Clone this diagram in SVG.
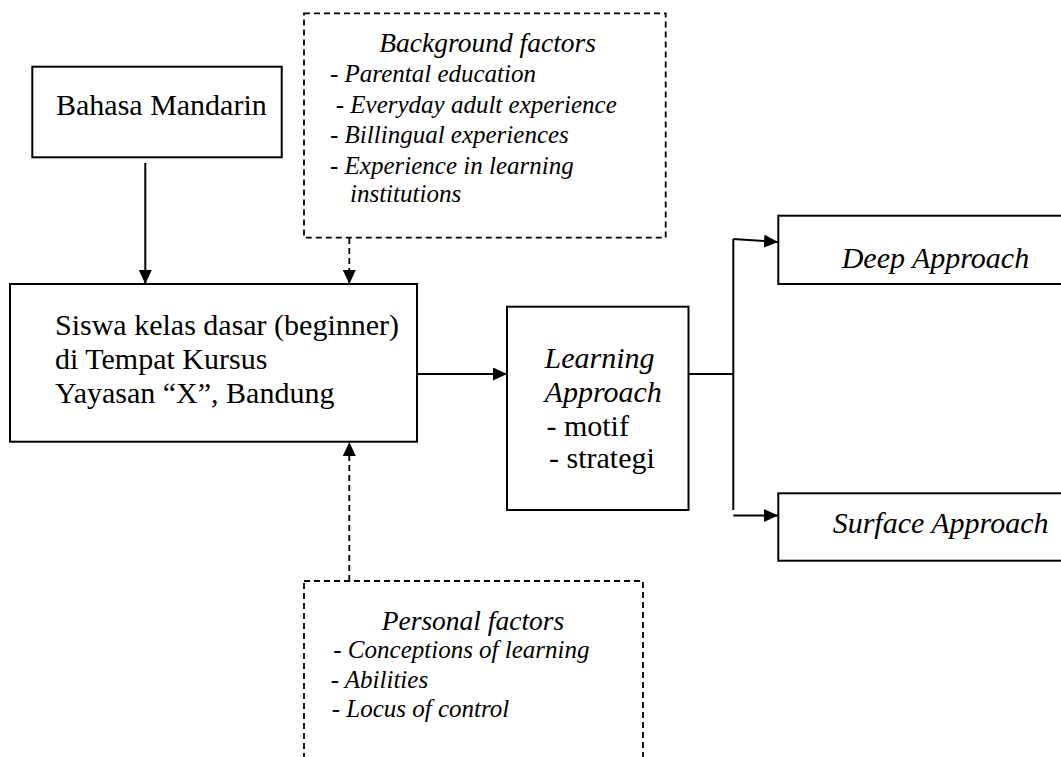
<svg xmlns="http://www.w3.org/2000/svg" width="1061" height="757" viewBox="0 0 1061 757">
<style>
  .box { fill: #fff; stroke: #000; stroke-width: 2; }
  .dbox { fill: none; stroke: #000; stroke-width: 1.8; stroke-dasharray: 6 4; }
  .line { fill: none; stroke: #000; stroke-width: 2; }
  .dline { fill: none; stroke: #000; stroke-width: 1.8; stroke-dasharray: 6 4; }
  text { font-family: "Liberation Serif", "Times New Roman", serif; fill: #000; }
  .main { font-size: 30px; }
  .ital { font-size: 30px; font-style: italic; }
  .title { font-size: 27.5px; font-style: italic; }
  .item { font-size: 25px; font-style: italic; }
</style>
<defs>
  <marker id="arrow" viewBox="0 0 14 13" refX="14" refY="6.5" markerWidth="14" markerHeight="13" markerUnits="userSpaceOnUse" orient="auto">
    <path d="M0,0 L14,6.5 L0,13 z" fill="#000"/>
  </marker>
</defs>
<rect width="1061" height="757" fill="#fff"/>

<g id="connectors">
  <line class="line" x1="145.3" y1="163" x2="145.3" y2="284" marker-end="url(#arrow)"/>
  <line class="dline" x1="349.3" y1="238" x2="349.3" y2="284" marker-end="url(#arrow)"/>
  <line class="dline" x1="349.3" y1="581" x2="349.3" y2="442" marker-end="url(#arrow)"/>
  <line class="line" x1="417" y1="374" x2="507" y2="374" marker-end="url(#arrow)"/>
  <polyline class="line" points="688.5,374 733.3,374"/>
  <line class="line" x1="733.3" y1="239" x2="733.3" y2="510"/>
  <line class="line" x1="733.3" y1="239" x2="778" y2="242" marker-end="url(#arrow)"/>
  <line class="line" x1="733.3" y1="515.5" x2="778" y2="515.5" marker-end="url(#arrow)"/>
</g>

<g id="bahasa">
  <rect class="box" x="32.3" y="66.7" width="249.4" height="90.6"/>
  <text class="main" x="56" y="115">Bahasa Mandarin</text>
</g>

<g id="background">
  <rect class="dbox" x="304" y="13.3" width="361.7" height="224.4"/>
  <text class="title" x="379.3" y="52.3">Background factors</text>
  <text class="item" x="330" y="81.7">- Parental education</text>
  <text class="item" x="335.7" y="113.3">- Everyday adult experience</text>
  <text class="item" x="330" y="143.3">- Billingual experiences</text>
  <text class="item" x="330" y="174">- Experience in learning</text>
  <text class="item" x="350" y="201.7">institutions</text>
</g>

<g id="siswa">
  <rect class="box" x="10" y="284" width="407" height="157.7"/>
  <text class="main" x="55" y="335">Siswa kelas dasar (beginner)</text>
  <text class="main" x="55" y="369">di Tempat Kursus</text>
  <text class="main" x="55" y="403">Yayasan “X”, Bandung</text>
</g>

<g id="learning">
  <rect class="box" x="507" y="306.7" width="181.5" height="203.3"/>
  <text class="ital" x="544.6" y="368">Learning</text>
  <text class="ital" x="544.6" y="402">Approach</text>
  <text class="main" x="546.4" y="436">- motif</text>
  <text class="main" x="549" y="468">- strategi</text>
</g>

<g id="deep">
  <rect class="box" x="778.3" y="215.7" width="300" height="68.3"/>
  <text class="ital" x="841.7" y="268.3">Deep Approach</text>
</g>

<g id="surface">
  <rect class="box" x="778.3" y="493.3" width="300" height="67.4"/>
  <text class="ital" x="832.7" y="533.3">Surface Approach</text>
</g>

<g id="personal">
  <rect class="dbox" x="304" y="581" width="339" height="240"/>
  <text class="title" x="381.7" y="630">Personal factors</text>
  <text class="item" x="333.3" y="658.3">- Conceptions of learning</text>
  <text class="item" x="330.7" y="688.3">- Abilities</text>
  <text class="item" x="331.7" y="716.7">- Locus of control</text>
</g>
</svg>
